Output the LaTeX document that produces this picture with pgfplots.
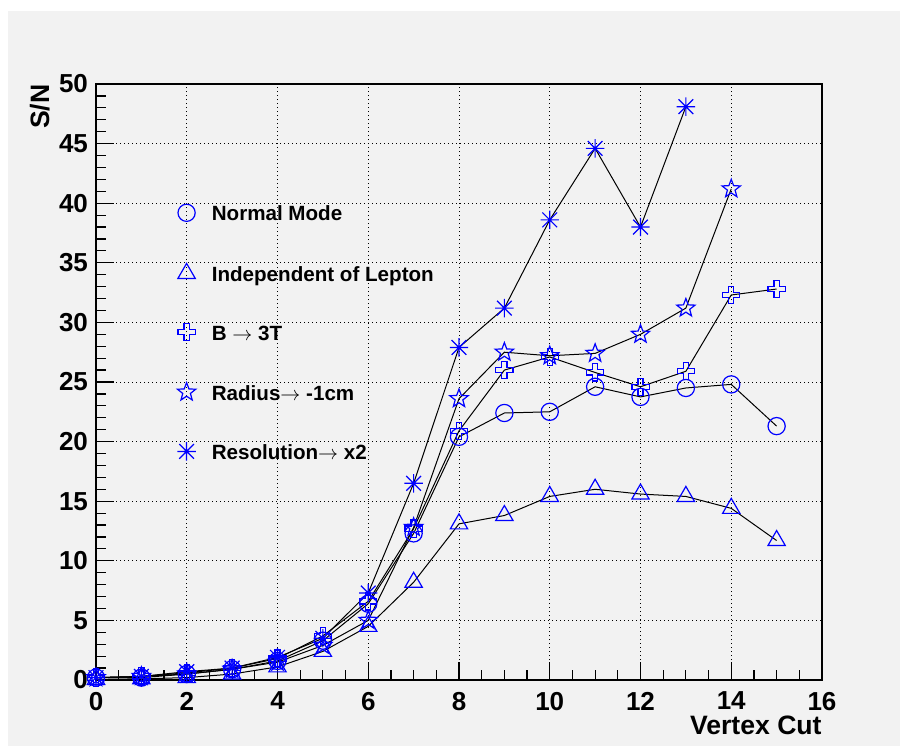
\documentclass[border=0pt]{standalone}
\usepackage{fontspec}
\setmainfont{Liberation Sans}
\usepackage{pgfplots}
\pgfplotsset{compat=1.18}
\definecolor{rootbg}{HTML}{F2F2F2}
\definecolor{rootblue}{HTML}{0000FF}

% ROOT-like open markers
\pgfdeclareplotmark{ocross}{%
  \pgfpathmoveto{\pgfqpoint{0.3\pgfplotmarksize}{\pgfplotmarksize}}%
  \pgfpathlineto{\pgfqpoint{-0.3\pgfplotmarksize}{\pgfplotmarksize}}%
  \pgfpathlineto{\pgfqpoint{-0.3\pgfplotmarksize}{0.3\pgfplotmarksize}}%
  \pgfpathlineto{\pgfqpoint{-\pgfplotmarksize}{0.3\pgfplotmarksize}}%
  \pgfpathlineto{\pgfqpoint{-\pgfplotmarksize}{-0.3\pgfplotmarksize}}%
  \pgfpathlineto{\pgfqpoint{-0.3\pgfplotmarksize}{-0.3\pgfplotmarksize}}%
  \pgfpathlineto{\pgfqpoint{-0.3\pgfplotmarksize}{-\pgfplotmarksize}}%
  \pgfpathlineto{\pgfqpoint{0.3\pgfplotmarksize}{-\pgfplotmarksize}}%
  \pgfpathlineto{\pgfqpoint{0.3\pgfplotmarksize}{-0.3\pgfplotmarksize}}%
  \pgfpathlineto{\pgfqpoint{\pgfplotmarksize}{-0.3\pgfplotmarksize}}%
  \pgfpathlineto{\pgfqpoint{\pgfplotmarksize}{0.3\pgfplotmarksize}}%
  \pgfpathlineto{\pgfqpoint{0.3\pgfplotmarksize}{0.3\pgfplotmarksize}}%
  \pgfpathclose\pgfusepathqstroke}
\pgfdeclareplotmark{ostar}{%
  \pgfpathmoveto{\pgfpointpolar{90}{\pgfplotmarksize}}%
  \pgfpathlineto{\pgfpointpolar{126}{0.42\pgfplotmarksize}}%
  \pgfpathlineto{\pgfpointpolar{162}{\pgfplotmarksize}}%
  \pgfpathlineto{\pgfpointpolar{198}{0.42\pgfplotmarksize}}%
  \pgfpathlineto{\pgfpointpolar{234}{\pgfplotmarksize}}%
  \pgfpathlineto{\pgfpointpolar{270}{0.42\pgfplotmarksize}}%
  \pgfpathlineto{\pgfpointpolar{306}{\pgfplotmarksize}}%
  \pgfpathlineto{\pgfpointpolar{342}{0.42\pgfplotmarksize}}%
  \pgfpathlineto{\pgfpointpolar{18}{\pgfplotmarksize}}%
  \pgfpathlineto{\pgfpointpolar{54}{0.42\pgfplotmarksize}}%
  \pgfpathclose\pgfusepathqstroke}
\pgfdeclareplotmark{rast}{%
  \pgfpathmoveto{\pgfqpoint{-\pgfplotmarksize}{0pt}}\pgfpathlineto{\pgfqpoint{\pgfplotmarksize}{0pt}}%
  \pgfpathmoveto{\pgfqpoint{0pt}{-\pgfplotmarksize}}\pgfpathlineto{\pgfqpoint{0pt}{\pgfplotmarksize}}%
  \pgfpathmoveto{\pgfqpoint{-0.8\pgfplotmarksize}{-0.8\pgfplotmarksize}}\pgfpathlineto{\pgfqpoint{0.8\pgfplotmarksize}{0.8\pgfplotmarksize}}%
  \pgfpathmoveto{\pgfqpoint{-0.8\pgfplotmarksize}{0.8\pgfplotmarksize}}\pgfpathlineto{\pgfqpoint{0.8\pgfplotmarksize}{-0.8\pgfplotmarksize}}%
  \pgfusepathqstroke}

\begin{document}
\begin{tikzpicture}
\path[use as bounding box] (-48pt,-33pt) rectangle (402pt,340pt);
\fill[rootbg] (-44pt,-33pt) rectangle (402pt,334.5pt);
\begin{axis}[
    scale only axis,
    width=363pt, height=298pt,
    at={(0,0)}, anchor=south west,
    xmin=0, xmax=16,
    ymin=0, ymax=50,
    xtick={0,2,...,16},
    ytick={0,5,...,50},
    minor x tick num=3,
    minor y tick num=4,
    tick pos=left,
    tick align=inside,
    major tick length=9pt,
    minor tick length=5pt,
    tick style={black, line width=0.6pt},
    axis line style={black, line width=0.9pt},
    axis background/.style={fill=rootbg},
    grid=major,
    grid style={black, line width=0.5pt, dash pattern=on 0.6pt off 1.4pt},
    /pgf/number format/assume math mode=true,
    ticklabel style={font=\fontsize{13}{13}\selectfont\bfseries},
    xticklabel style={yshift=-2.5pt},
    yticklabel style={xshift=-0.5pt},
    xlabel={Vertex Cut},
    ylabel={S/N},
    label style={font=\fontsize{13.3}{13.3}\selectfont\bfseries},
    xlabel style={at={(rel axis cs:1,-0.059)}, anchor=north east, inner sep=0pt},
    ylabel style={at={(rel axis cs:-0.0634,1)}, anchor=south east, inner sep=0pt},
    clip=false,
    legend cell align=left,
    legend image code/.code={\draw[#1] plot coordinates {(0pt,0pt)};},
    legend style={at={(axis cs:1.785,39.95)}, anchor=north west,
        draw=none, fill=none, inner sep=0pt,
        font=\fontsize{10.3}{10.3}\selectfont\bfseries,
        row sep=21pt, column sep=8pt,
        nodes={inner sep=0pt, text height=8pt, text depth=0pt}},
    every axis plot/.append style={black, line width=0.5pt},
]
\addplot[mark=o, mark size=4.3pt, mark options={rootblue, line width=0.6pt, solid}]
coordinates {(0,0.2)(1,0.2)(2,0.5)(3,0.9)(4,1.6)(5,3.3)(6,6.4)(7,12.3)(8,20.4)(9,22.4)(10,22.5)(11,24.6)(12,23.75)(13,24.5)(14,24.8)(15,21.3)};
\addlegendentry{Normal Mode}
\addplot[mark=triangle, mark size=5pt, mark options={rootblue, line width=0.6pt, solid}]
coordinates {(0,0.05)(1,0.1)(2,0.2)(3,0.5)(4,1.1)(5,2.4)(6,4.5)(7,8.2)(8,13.1)(9,13.8)(10,15.4)(11,16.0)(12,15.6)(13,15.4)(14,14.4)(15,11.7)};
\addlegendentry{Independent of Lepton}
\addplot[mark=ocross, mark size=4.3pt, mark options={rootblue, line width=0.6pt, solid}]
coordinates {(0,0.2)(1,0.3)(2,0.6)(3,1.0)(4,1.8)(5,3.7)(6,6.6)(7,12.7)(8,20.9)(9,26.0)(10,27.1)(11,25.8)(12,24.6)(13,25.9)(14,32.3)(15,32.8)};
\addlegendentry{B $\rightarrow$ 3T}
\addplot[mark=ostar, mark size=4.8pt, mark options={rootblue, line width=0.6pt, solid}]
coordinates {(0,0.2)(1,0.3)(2,0.5)(3,0.9)(4,1.5)(5,2.9)(6,5.0)(7,12.8)(8,23.6)(9,27.5)(10,27.2)(11,27.4)(12,29.0)(13,31.2)(14,41.2)};
\addlegendentry{Radius$\rightarrow$ -1cm}
\addplot[mark=rast, mark size=4.6pt, mark options={rootblue, line width=0.6pt, solid}]
coordinates {(0,0.2)(1,0.3)(2,0.7)(3,1.0)(4,1.9)(5,3.5)(6,7.3)(7,16.5)(8,27.9)(9,31.2)(10,38.6)(11,44.6)(12,38.0)(13,48.1)};
\addlegendentry{Resolution$\rightarrow$ x2}
\end{axis}
\end{tikzpicture}
\end{document}
